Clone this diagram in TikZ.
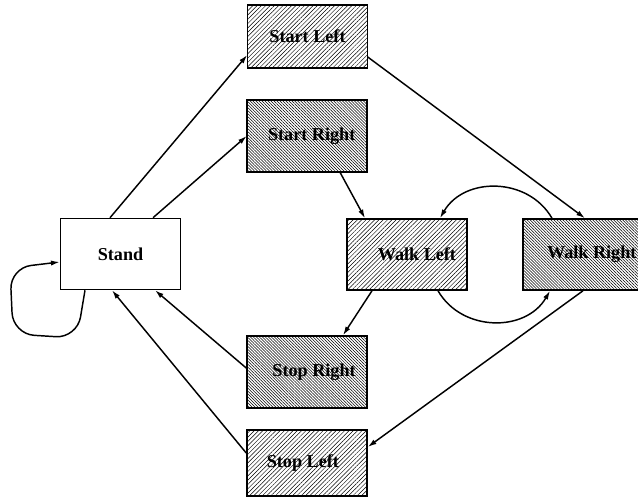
\documentclass[tikz,border=0pt]{standalone}
\usepackage{fontspec}
\setmainfont{Liberation Serif}
\usetikzlibrary{arrows.meta, patterns.meta, calc}

\begin{document}
\begin{tikzpicture}[
        x=0.03cm, y=-0.03cm,
        box/.style={rectangle, draw=black, line width=1.3pt, minimum width=3.6cm, minimum height=2.13cm, inner sep=0pt, font=\fontsize{15.5}{18}\selectfont\bfseries},
        lefthatch/.style={pattern={Lines[angle=45, distance=2.6pt, line width=0.4pt]}},
        righthatch/.style={pattern={Lines[angle=-45, distance=1.8pt, line width=0.45pt]}},
        arrow/.style={-{Latex[length=7.5pt, width=4.5pt]}, line width=1.25pt}
    ]
        \clip (0,0) rectangle (638,504);

        % Stand
        \node[box, fill=white] (stand) at (120.5,254) {Stand};

        % Start states
        \node[box, lefthatch, minimum height=1.89cm] (startL) at (307.5,36.5) {Start Left};
        \node[box, righthatch, minimum height=2.16cm] (startR) at (307,136) {\hspace*{8pt}Start Right};

        % Walk states
        \node[box, lefthatch] (walkL) at (407,254.5) {\hspace*{17pt}Walk Left};
        \node[box, righthatch] (walkR) at (583,254.5) {\hspace*{15pt}Walk Right};

        % Stop states
        \node[box, righthatch, minimum height=2.16cm] (stopR) at (307,372) {\hspace*{12pt}Stop Right};
        \node[box, lefthatch, minimum height=1.98cm] (stopL) at (307,463) {\hspace*{-7pt}Stop Left};

        % Arrows
        \draw[arrow] ($(stand.north)+(-10.5,0)$) -- ($(startL.west)+(0,18.5)$);
        \draw[arrow] ($(stand.north)+(32.5,0)$) -- (startR.west);
        \draw[arrow] ($(startL.east)+(0,20.5)$) -- ($(walkR.north)+(2,0)$);
        \draw[arrow] ($(startR.south)+(33,0)$) -- ($(walkL.north)+(-42,0)$);
        \draw[arrow] ($(walkR.north)+(-31,0)$) to[out=120, in=60, looseness=1.1] ($(walkL.north)+(33,0)$);
        \draw[arrow] ($(walkL.south)+(31,0)$) to[out=-60, in=-120, looseness=1.1] ($(walkR.south)+(-33,0)$);
        \draw[arrow] ($(walkL.south)+(-35,0)$) -- ($(stopR.north)+(36,0)$);
        \draw[arrow] (walkR.south) -- ($(stopL.east)+(0,-16)$);
        \draw[arrow] ($(stopR.west)+(0,-4)$) -- ($(stand.south)+(34.5,0)$);
        \draw[arrow] ($(stopL.west)+(0,-10)$) -- ($(stand.south)+(-8.5,0)$);

        % Self loop
        \draw[arrow, rounded corners=18pt] ($(stand.south)+(-35.5,0)$) -- (77,338) -- (13,334) -- (10,268) -- ($(stand.west)+(0,8)$);
    \end{tikzpicture}
\end{document}
